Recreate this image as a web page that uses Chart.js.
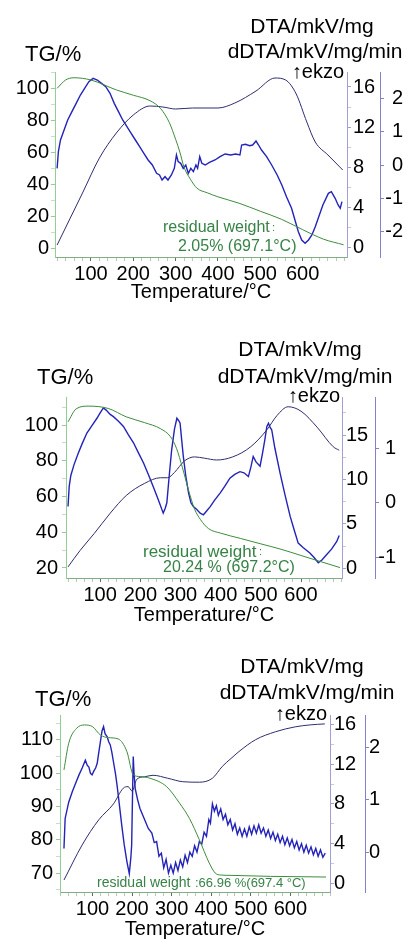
<html>
<head>
  <meta charset="UTF-8">
  <script src="https://cdn.jsdelivr.net/npm/chart.js"></script>
  <title>TG / DTA</title>
  <style>
    body { margin: 0; background: #fff; overflow: hidden; width: 411px; height: 939px; position: relative; }
    canvas { position: absolute; left: 0; }
  </style>
</head>
<body>
<canvas id="p1" width="411" height="310" style="top:0px"></canvas>
<canvas id="p2" width="411" height="318" style="top:310px"></canvas>
<canvas id="p3" width="411" height="320" style="top:628px"></canvas>

<script>
// tick labels
const X_TICKS = [100, 200, 300, 400, 500, 600];
const TG1_TICKS = [0, 20, 40, 60, 80, 100];
const DTA1_TICKS = [0, 4, 8, 12, 16];
const DDTA1_TICKS = [-2, -1, 0, 1, 2];
const TG2_TICKS = [20, 40, 60, 80, 100];
const DTA2_TICKS = [0, 5, 10, 15];
const DDTA2_TICKS = [-1, 0, 1];
const TG3_TICKS = [70, 80, 90, 100, 110];
const DTA3_TICKS = [0, 4, 8, 12, 16];
const DDTA3_TICKS = [0, 1, 2];

// sample 1
const TG1_T = [20, 40, 60, 100, 160, 200, 240, 265, 285, 300, 310, 320, 335, 350, 375, 400, 450, 500, 550, 600, 650, 697];
const TG1 = [99.8, 105, 106.4, 105, 98.8, 95.5, 92, 87, 78.5, 68, 60, 50.5, 43, 37.5, 34.5, 32, 28, 23, 18, 11.5, 5.5, 2.05];
const DTA1_T = [20, 50, 80, 120, 160, 200, 240, 270, 300, 340, 400, 440, 490, 535, 560, 585, 610, 630, 660, 695];
const DTA1 = [0.2, 2.8, 5.4, 8.9, 11.4, 13.2, 14.1, 14, 13.8, 13.9, 13.9, 14.4, 15.6, 16.9, 16.7, 15.3, 12.5, 10.5, 9.2, 7.7];
const DDTA1_T = [20, 23, 28, 35, 45, 55, 65, 75, 85, 95, 105, 115, 125, 135, 145, 155, 165, 175, 185, 195,
  205, 215, 225, 235, 245, 255, 262, 268, 275, 282, 290, 297, 302, 306, 312, 318, 324, 330, 336, 342,
  348, 352, 357, 362, 370, 380, 393, 405, 417, 430, 442, 452, 456, 465, 475, 482, 490, 496, 503, 515,
  527, 540, 551, 562, 574, 582, 590, 598, 606, 614, 622, 630, 637, 648, 661, 668, 677, 684, 689, 693];
const DDTA1 = [-0.1, 0.4, 0.75, 1.0, 1.35, 1.6, 1.85, 2.1, 2.3, 2.5, 2.6, 2.55, 2.45, 2.35, 2.15, 1.85, 1.6, 1.35, 1.15, 0.95,
  0.75, 0.55, 0.35, 0.15, 0.0, -0.25, -0.3, -0.45, -0.35, -0.45, -0.3, -0.1, 0.3, 0.1, 0.05, -0.1, 0.0, -0.25, -0.1, -0.2,
  0.0, -0.1, 0.25, 0.05, 0.0, 0.08, 0.15, 0.25, 0.33, 0.3, 0.33, 0.3, 0.6, 0.62, 0.58, 0.6, 0.72, 0.6, 0.45, 0.25,
  0.0, -0.3, -0.6, -0.95, -1.3, -1.65, -2.0, -2.25, -2.35, -2.25, -2.1, -1.85, -1.6, -1.2, -0.85, -0.8, -1.0, -1.2, -1.3, -1.1];

// sample 2
const TG2_T = [20, 40, 70, 120, 165, 210, 250, 275, 290, 305, 320, 335, 350, 370, 400, 450, 500, 550, 600, 650, 697];
const TG2 = [101.8, 109, 110.6, 109.3, 104.6, 101.4, 98, 93.5, 87, 76, 63.6, 53, 47, 42, 39.5, 36.5, 33.5, 30.5, 27, 23.5, 20.24];
const DTA2_T = [20, 50, 85, 125, 165, 210, 250, 268, 285, 310, 335, 360, 390, 430, 475, 515, 540, 568, 600, 640, 680, 695];
const DTA2 = [0.15, 2, 3.9, 6.2, 8.2, 9.55, 10.2, 10.2, 10.8, 12.1, 12.55, 12.4, 12.2, 12.55, 13.7, 15.6, 17.2, 18.2, 17.7, 15.9, 13.7, 13.3];
const DDTA2_T = [20, 23, 27, 35, 45, 55, 67, 80, 92, 100, 108, 115, 125, 133, 145, 158, 170, 183, 195, 208,
  220, 232, 245, 257, 262, 266, 272, 278, 285, 291, 296, 299, 303, 307, 313, 320, 326, 332, 340, 349,
  357, 365, 374, 385, 399, 410, 423, 435, 448, 458, 469, 475, 481, 488, 498, 504, 510, 515, 519, 523,
  527, 535, 548, 560, 573, 583, 593, 605, 622, 632, 643, 652, 664, 676, 689, 695];
const DDTA2 = [-0.07, 0.3, 0.5, 0.7, 0.9, 1.08, 1.28, 1.42, 1.55, 1.65, 1.74, 1.7, 1.62, 1.58, 1.5, 1.4, 1.25, 1.1, 0.92, 0.73,
  0.52, 0.3, 0.05, -0.19, -0.1, 0.0, 0.5, 0.97, 1.35, 1.55, 1.5, 1.46, 1.15, 0.85, 0.5, 0.18, 0.0, -0.07, -0.12, -0.19,
  -0.22, -0.15, -0.07, 0.05, 0.18, 0.3, 0.45, 0.52, 0.57, 0.55, 0.48, 0.65, 0.85, 0.75, 0.67, 0.9, 1.16, 1.4, 1.46, 1.38,
  1.34, 1.0, 0.54, 0.15, -0.25, -0.5, -0.74, -0.82, -0.92, -1.0, -1.1, -1.05, -0.95, -0.85, -0.71, -0.6];

// sample 3
const TG3_T = [28, 40, 60, 80, 100, 120, 140, 165, 187, 203, 220, 245, 287, 320, 345, 370, 395, 410, 425, 450, 550, 690];
const TG3 = [101, 109, 113.5, 114.5, 114, 111.5, 110.7, 110.3, 106.5, 99.5, 99, 98.5, 96, 91, 86.4, 80, 73, 70, 69.4, 69.3, 69, 68.8];
const DTA3_T = [28, 74, 116, 153, 178, 190, 200, 212, 232, 253, 290, 328, 370, 403, 428, 450, 470, 512, 562, 612, 650, 687];
const DTA3 = [0.3, 3.85, 6.4, 8.0, 9.6, 9.75, 9.3, 10.5, 10.75, 10.9, 10.6, 10.25, 10.2, 10.6, 11.8, 12.6, 13.3, 14.5, 15.3, 15.8, 16.0, 16.1];
const DDTA3_T = [28, 31, 40, 49, 58, 66, 74, 82, 87, 91, 95, 99, 104, 108, 112, 116, 120, 124, 128, 132,
  137, 141, 145, 149, 153, 158, 162, 168, 174, 180, 187, 193, 197, 199, 201, 203, 205, 208, 214, 220,
  230, 241, 250, 256, 262, 268, 274, 280, 286, 292, 298, 304, 310, 316, 322, 328, 334, 340, 346, 352,
  358, 364, 370, 376, 382, 388, 394, 398, 403, 408, 413, 418, 424, 430, 436, 442, 448, 454, 460, 466,
  472, 478, 484, 490, 496, 502, 508, 514, 520, 526, 532, 538, 544, 550, 556, 562, 568, 574, 580, 586,
  592, 598, 604, 610, 616, 622, 628, 634, 640, 646, 652, 658, 664, 670, 676, 682, 688];
const DDTA3 = [0.07, 0.64, 0.95, 1.15, 1.32, 1.47, 1.6, 1.75, 1.65, 1.62, 1.5, 1.47, 1.55, 1.6, 1.69, 1.9, 2.1, 2.3, 2.39, 2.25,
  2.2, 2.1, 2.04, 1.9, 1.72, 1.5, 1.28, 0.9, 0.51, 0.15, -0.18, -0.41, -0.1, 0.13, 1.0, 1.82, 1.5, 1.21, 1.0, 0.83,
  0.65, 0.45, 0.36, 0.18, 0.2, -0.08, -0.02, -0.3, -0.14, -0.4, -0.25, -0.4, -0.2, -0.35, -0.15, -0.28, -0.06, -0.2, 0.0, -0.08,
  0.12, 0.0, 0.2, 0.15, 0.38, 0.3, 0.62, 0.55, 0.92, 0.78, 0.88, 0.7, 0.82, 0.62, 0.72, 0.52, 0.62, 0.42, 0.54, 0.34,
  0.46, 0.3, 0.44, 0.3, 0.48, 0.34, 0.5, 0.36, 0.52, 0.36, 0.46, 0.3, 0.42, 0.26, 0.38, 0.22, 0.34, 0.18, 0.3, 0.14,
  0.27, 0.12, 0.24, 0.08, 0.2, 0.04, 0.16, 0.0, 0.13, -0.02, 0.1, -0.05, 0.07, -0.08, 0.04, -0.1, -0.02];

const FONT = '"Liberation Sans", Arial, sans-serif';
const GREEN = 'rgb(60,140,60)';
const NAVY = 'rgb(45,45,110)';
const BLUE = 'rgb(35,35,185)';
const TXT_GREEN = 'rgb(55,130,70)';

Chart.defaults.font.family = FONT;
Chart.defaults.color = '#000';

function pts(xs, ys) {
  return xs.map((x, i) => ({x: x, y: ys[i]}));
}
// labelled ticks plus unlabelled minor ticks between them
function setTicks(list, minorStep) {
  return s => {
    const vals = list.slice();
    if (minorStep) {
      const first = Math.ceil(s.min / minorStep) * minorStep;
      for (let v = first; v <= s.max; v += minorStep) {
        const r = Math.round(v * 1000) / 1000;
        if (!list.includes(r)) vals.push(r);
      }
    }
    vals.sort((a, b) => a - b);
    s.ticks = vals.map(v => ({value: v, major: list.includes(v)}));
  };
}
function labelOf(list) {
  return v => list.includes(v) ? String(v) : '';
}
function tickColor(list, color, minorColor) {
  return c => (c.tick && list.includes(c.tick.value)) ? color : minorColor;
}
function setWidth(w) {
  return s => { s.width = w; };
}
function setHeight(h) {
  return s => { s.height = h; };
}

function notes(items) {
  return {
    id: 'notes',
    afterDraw(chart) {
      const ctx = chart.ctx;
      ctx.save();
      ctx.textBaseline = 'middle';
      items.forEach(it => {
        ctx.font = it.size + 'px ' + FONT;
        ctx.fillStyle = it.color || '#000';
        ctx.textAlign = it.align || 'left';
        ctx.fillText(it.text, it.x, it.y);
      });
      ctx.restore();
    }
  };
}

function yAxis(pos, min, max, ticks, minor, width, color, minorColor, tickOpts, weight) {
  return {
    type: 'linear', position: pos, min: min, max: max, weight: weight || 0,
    afterBuildTicks: setTicks(ticks, minor),
    afterFit: setWidth(width),
    grid: {drawOnChartArea: false, tickLength: 4, color: color,
      tickColor: tickColor(ticks, color, minorColor)},
    border: {color: color, width: 1},
    ticks: Object.assign({font: {size: 20}, color: '#000', autoSkip: false,
      callback: labelOf(ticks)}, tickOpts)
  };
}

function build(id, p) {
  const axisG = 'rgb(130,175,130)';
  new Chart(document.getElementById(id), {
    type: 'line',
    data: {
      datasets: [
        {data: pts(p.tgT, p.tg), yAxisID: 'tg', borderColor: GREEN, borderWidth: 1,
          pointRadius: 0, cubicInterpolationMode: 'monotone'},
        {data: pts(p.dtaT, p.dta), yAxisID: 'dta', borderColor: NAVY, borderWidth: 1,
          pointRadius: 0, cubicInterpolationMode: 'monotone'},
        {data: pts(p.ddT, p.dd), yAxisID: 'ddta', borderColor: BLUE, borderWidth: 1.4,
          pointRadius: 0, tension: 0}
      ]
    },
    options: {
      responsive: false,
      animation: false,
      events: [],
      layout: {padding: {top: p.top, bottom: p.bottom, left: 0, right: p.right}},
      plugins: {legend: {display: false}, tooltip: {enabled: false}},
      scales: {
        x: {
          type: 'linear', position: 'bottom', min: p.xMin, max: p.xMax,
          afterBuildTicks: setTicks(X_TICKS, 20),
          afterFit: setHeight(p.xH),
          grid: {drawOnChartArea: false, tickLength: 4, color: axisG,
            tickColor: tickColor(X_TICKS, 'rgb(90,110,90)', 'rgb(185,200,185)')},
          border: {color: axisG},
          ticks: {font: {size: 20}, color: '#000', padding: 1, maxRotation: 0, autoSkip: false,
            callback: labelOf(X_TICKS)},
          title: {display: true, text: 'Temperature/°C', font: {size: 20}, color: '#000', padding: 0}
        },
        tg: yAxis('left', p.tgMin, p.tgMax, p.tgTicks, p.tgMinor, p.left,
          'rgb(150,205,150)', 'rgb(195,225,195)', {padding: p.tgPad}),
        dta: yAxis('right', p.dtaMin, p.dtaMax, p.dtaTicks, p.dtaMinor, p.dtaW,
          'rgb(160,160,210)', 'rgb(200,200,230)', {padding: p.dtaPad}, 1),
        ddta: yAxis('right', p.ddMin, p.ddMax, p.ddTicks, 0, p.ddW,
          'rgb(130,130,200)', 'rgb(130,130,200)', {padding: p.ddPad, crossAlign: 'far'}, 2)
      }
    },
    plugins: [notes(p.notes)]
  });
}

build('p1', {
  tgT: TG1_T, tg: TG1, dtaT: DTA1_T, dta: DTA1, ddT: DDTA1_T, dd: DDTA1,
  xMin: 15, xMax: 705, tgMin: -5.6, tgMax: 110, dtaMin: -1.0, dtaMax: 17.5, ddMin: -2.76, ddMax: 2.79,
  tgTicks: TG1_TICKS, dtaTicks: DTA1_TICKS, ddTicks: DDTA1_TICKS, tgMinor: 10, dtaMinor: 2,
  top: 72, bottom: 6, xH: 47, left: 55, dtaW: 33, ddW: 23, right: 8,
  tgPad: 2, dtaPad: 2, ddPad: 2,
  notes: [
    {text: 'TG/%', x: 25, y: 55, size: 22},
    {text: 'DTA/mkV/mg', x: 312, y: 27, size: 21, align: 'center'},
    {text: 'dDTA/mkV/mg/min', x: 315, y: 52, size: 21, align: 'center'},
    {text: '↑ekzo', x: 344, y: 72, size: 20, align: 'right'},
    {text: 'residual weight', x: 163, y: 228, size: 16, color: TXT_GREEN},
    {text: ':', x: 272, y: 228, size: 11, color: TXT_GREEN},
    {text: '2.05% (697.1°C)', x: 178, y: 247, size: 16, color: TXT_GREEN}
  ]
});

build('p2', {
  tgT: TG2_T, tg: TG2, dtaT: DTA2_T, dta: DTA2, ddT: DDTA2_T, dd: DDTA2,
  xMin: 15, xMax: 702, tgMin: 14.4, tgMax: 115.7, dtaMin: -1.1, dtaMax: 19.3, ddMin: -1.38, ddMax: 1.94,
  tgTicks: TG2_TICKS, dtaTicks: DTA2_TICKS, ddTicks: DDTA2_TICKS, tgMinor: 10, dtaMinor: 2.5,
  top: 87, bottom: 1, xH: 49, left: 66, dtaW: 33, ddW: 21, right: 15,
  tgPad: 4, dtaPad: 0, ddPad: 0,
  notes: [
    {text: 'TG/%', x: 37, y: 68, size: 22},
    {text: 'DTA/mkV/mg', x: 300, y: 40, size: 21, align: 'center'},
    {text: 'dDTA/mkV/mg/min', x: 305, y: 67, size: 21, align: 'center'},
    {text: '↑ekzo', x: 340, y: 86, size: 20, align: 'right'},
    {text: 'residual weight', x: 143, y: 242, size: 17, color: TXT_GREEN},
    {text: ':', x: 259, y: 242, size: 11, color: TXT_GREEN},
    {text: '20.24 % (697.2°C)', x: 163, y: 258, size: 16, color: TXT_GREEN}
  ]
});

build('p3', {
  tgT: TG3_T, tg: TG3, dtaT: DTA3_T, dta: DTA3, ddT: DDTA3_T, dd: DDTA3,
  xMin: 18, xMax: 700, tgMin: 64.3, tgMax: 117.5, dtaMin: -0.91, dtaMax: 17.0, ddMin: -0.76, ddMax: 2.61,
  tgTicks: TG3_TICKS, dtaTicks: DTA3_TICKS, ddTicks: DDTA3_TICKS, tgMinor: 5, dtaMinor: 2,
  top: 87, bottom: 7, xH: 49, left: 60, dtaW: 35, ddW: 15, right: 31,
  tgPad: 3, dtaPad: 0, ddPad: 0,
  notes: [
    {text: 'TG/%', x: 35, y: 72, size: 22},
    {text: 'DTA/mkV/mg', x: 302, y: 39, size: 21, align: 'center'},
    {text: 'dDTA/mkV/mg/min', x: 307, y: 65, size: 21, align: 'center'},
    {text: '↑ekzo', x: 327, y: 86, size: 20, align: 'right'},
    {text: 'residual weight', x: 97, y: 255, size: 14, color: TXT_GREEN},
    {text: ':66.96 %(697.4 °C)', x: 195, y: 255, size: 13, color: TXT_GREEN}
  ]
});
</script>
</body>
</html>
